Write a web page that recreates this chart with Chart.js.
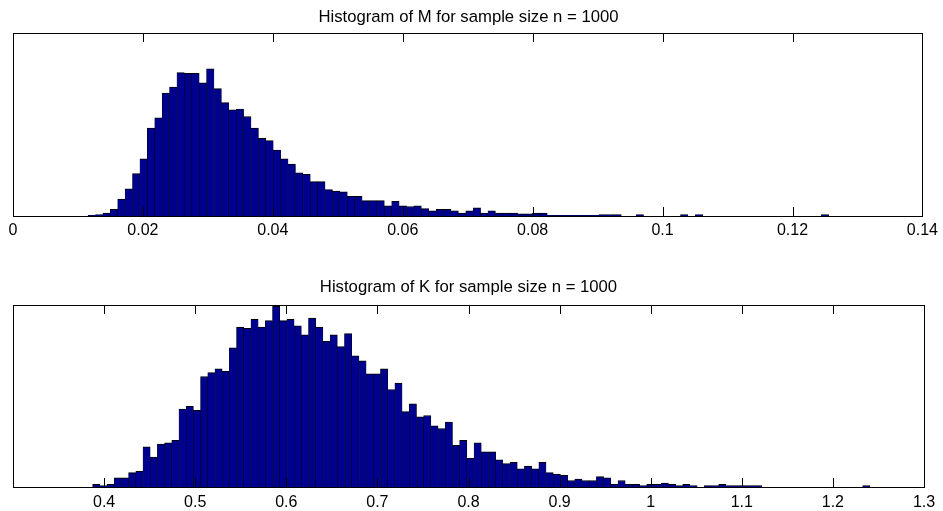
<!DOCTYPE html>
<html lang="en">
<head>
  <meta charset="UTF-8">
  <title>Histograms of M and K</title>
  <style>
    body { margin: 0; background: #fff; }
    .wrap { position: relative; width: 943px; height: 511px; }
    canvas { position: absolute; left: 0; }
    #histM { top: 0; }
    #histK { top: 250px; }
  </style>
</head>
<body>
  <div class="wrap">
    <canvas id="histM" width="943" height="250"></canvas>
    <canvas id="histK" width="943" height="261"></canvas>
  </div>

  <script src="https://cdn.jsdelivr.net/npm/chart.js"></script>
  <script>
    // M: 100 bins, first edge and bin width
    const mStart = 0.01156;
    const mBinWidth = 0.001140;
    const mCounts = [
      1, 2, 4, 9, 23, 37, 58, 78, 120, 134,
      168, 176, 196, 195, 195, 182, 201, 174, 155, 145,
      146, 136, 120, 106, 103, 90, 78, 71, 59, 57,
      47, 47, 36, 34, 33, 27, 27, 21, 21, 21,
      14, 20, 14, 13, 14, 10, 7, 9, 9, 7,
      4, 7, 11, 4, 7, 4, 4, 4, 3, 3,
      4, 4, 1, 1, 1, 1, 1, 1, 1, 2,
      2, 2, 0, 0, 2, 0, 0, 0, 0, 0,
      2, 0, 2, 0, 0, 0, 0, 0, 0, 0,
      0, 0, 0, 0, 0, 0, 0, 0, 0, 2
    ];

    // K: 108 bins
    const kStart = 0.3874;
    const kBinWidth = 0.00790;
    const kCounts = [
      2, 1, 2, 7, 7, 11, 12, 31, 23, 33,
      34, 36, 60, 62, 59, 85, 88, 91, 89, 107,
      123, 122, 129, 123, 128, 139, 128, 129, 124, 117,
      130, 123, 112, 117, 108, 118, 101, 97, 87, 87,
      91, 75, 80, 58, 64, 54, 55, 47, 45, 50,
      32, 36, 22, 34, 27, 27, 21, 18, 19, 14,
      16, 14, 19, 11, 10, 9, 5, 6, 5, 5,
      8, 7, 2, 5, 2, 2, 1, 2, 2, 3,
      2, 1, 2, 1, 0, 1, 1, 2, 1, 1,
      1, 1, 1, 0, 0, 0, 0, 0, 0, 0,
      0, 0, 0, 0, 0, 0, 0, 1
    ];

    const FONT = 'Liberation Sans, Arial, Helvetica, sans-serif';

    // matlab style box with inward ticks on top and bottom
    const boxTicks = {
      id: 'boxTicks',
      afterDatasetsDraw(chart) {
        const { ctx, chartArea: a, scales: { x } } = chart;
        ctx.save();
        ctx.strokeStyle = '#000';
        ctx.lineWidth = 1;
        ctx.beginPath();
        x.ticks.forEach(t => {
          const px = Math.round(x.getPixelForValue(t.value)) + 0.5;
          ctx.moveTo(px, a.bottom);
          ctx.lineTo(px, a.bottom - 9);
          ctx.moveTo(px, a.top);
          ctx.lineTo(px, a.top + 9);
        });
        ctx.stroke();
        ctx.strokeRect(Math.round(a.left) + 0.5, Math.round(a.top) + 0.5,
          Math.round(a.right - a.left), Math.round(a.bottom - a.top));
        ctx.restore();
      }
    };

    function histogram(id, title, start, width, counts, xr, yMax, pad, titlePad, labelPad, hideFirst) {
      const points = counts.map((c, i) => ({ x: start + (i + 0.5) * width, y: c }));
      return new Chart(document.getElementById(id), {
        type: 'bar',
        data: {
          datasets: [{
            data: points,
            backgroundColor: '#00008f',
            borderColor: '#000',
            borderWidth: { top: 1, left: 0.5, right: 0.5, bottom: 0 },
            borderSkipped: false,
            barPercentage: 1,
            categoryPercentage: 1
          }]
        },
        options: {
          responsive: false,
          animation: false,
          layout: { padding: pad },
          plugins: {
            legend: { display: false },
            tooltip: { enabled: false },
            title: {
              display: true,
              text: title,
              color: '#000',
              font: { family: FONT, size: 16.7, weight: 'normal', lineHeight: 1.2 },
              padding: titlePad
            }
          },
          scales: {
            x: {
              type: 'linear',
              offset: false,
              min: xr[0],
              max: xr[1],
              grid: { display: false, drawTicks: false },
              border: { display: false },
              afterBuildTicks: s => {
                if (hideFirst) s.ticks = s.ticks.filter(t => t.value > xr[0] + 1e-9);
              },
              afterFit: s => { s.height = 24; },
              ticks: {
                stepSize: xr[2],
                maxRotation: 0,
                autoSkip: false,
                padding: labelPad,
                color: '#000',
                font: { family: FONT, size: 16 },
                callback: v => String(Number(v.toFixed(2)))
              }
            },
            y: {
              display: false,
              min: 0,
              max: yMax
            }
          }
        },
        plugins: [boxTicks]
      });
    }

    histogram('histM', 'Histogram of M for sample size n = 1000', mStart, mBinWidth, mCounts,
      [0, 0.14, 0.02], 250, { left: 13, right: 19, top: 0, bottom: 10 },
      { top: 7.5, bottom: 5.5 }, 5, false);

    histogram('histK', 'Histogram of K for sample size n = 1000', kStart, kBinWidth, kCounts,
      [0.3, 1.3, 0.1], 140, { left: 13, right: 19, top: 0, bottom: 0 },
      { top: 27.5, bottom: 7.5 }, 5.5, true);
  </script>
</body>
</html>
